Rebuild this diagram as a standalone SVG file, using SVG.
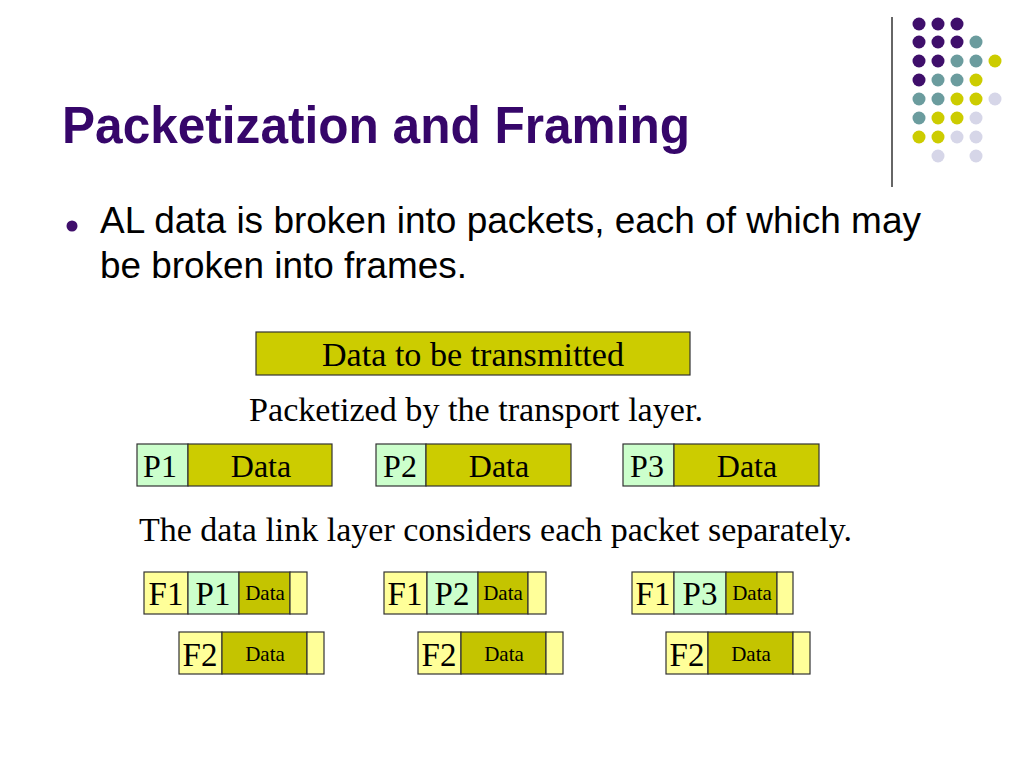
<svg xmlns="http://www.w3.org/2000/svg" width="1024" height="768" viewBox="0 0 1024 768">
<style>
.t{font-family:"Liberation Serif","Times New Roman",serif;fill:#000}
.s{font-family:"Liberation Sans",Arial,sans-serif;fill:#000}
.box{stroke:#333;stroke-width:1.2}
.dat{fill:#cccc00}
.fdat{fill:#c4c400}
.p{fill:#ccffcc}
.f{fill:#ffff99}
.big{font-size:32px}
.fr{font-size:33px}
.sm{font-size:21px}
.pu{fill:#3f0f6b}.te{fill:#6b9c9e}.ye{fill:#cccc00}.la{fill:#d6d6e8}
</style>
<rect width="1024" height="768" fill="#fff"/>
<g id="decor">
<line x1="892" y1="17" x2="892" y2="187" stroke="#333" stroke-width="1.5"/>
<g>
<circle class="pu" cx="919" cy="24" r="6.5"/><circle class="pu" cx="938" cy="24" r="6.5"/><circle class="pu" cx="957" cy="24" r="6.5"/>
<circle class="pu" cx="919" cy="42" r="6.5"/><circle class="pu" cx="938" cy="42" r="6.5"/><circle class="pu" cx="957" cy="42" r="6.5"/><circle class="te" cx="976" cy="42" r="6.5"/>
<circle class="pu" cx="919" cy="61" r="6.5"/><circle class="pu" cx="938" cy="61" r="6.5"/><circle class="te" cx="957" cy="61" r="6.5"/><circle class="te" cx="976" cy="61" r="6.5"/><circle class="ye" cx="995" cy="61" r="6.5"/>
<circle class="pu" cx="919" cy="80" r="6.5"/><circle class="te" cx="938" cy="80" r="6.5"/><circle class="te" cx="957" cy="80" r="6.5"/><circle class="ye" cx="976" cy="80" r="6.5"/>
<circle class="te" cx="919" cy="99" r="6.5"/><circle class="te" cx="938" cy="99" r="6.5"/><circle class="ye" cx="957" cy="99" r="6.5"/><circle class="ye" cx="976" cy="99" r="6.5"/><circle class="la" cx="995" cy="99" r="6.5"/>
<circle class="te" cx="919" cy="118" r="6.5"/><circle class="ye" cx="938" cy="118" r="6.5"/><circle class="ye" cx="957" cy="118" r="6.5"/><circle class="la" cx="976" cy="118" r="6.5"/>
<circle class="ye" cx="919" cy="137" r="6.5"/><circle class="ye" cx="938" cy="137" r="6.5"/><circle class="la" cx="957" cy="137" r="6.5"/><circle class="la" cx="976" cy="137" r="6.5"/>
<circle class="la" cx="938" cy="156" r="6.5"/><circle class="la" cx="976" cy="156" r="6.5"/>
</g>
</g>
<g id="title"><text x="62" y="143" font-family="Liberation Sans,Arial,sans-serif" font-weight="bold" font-size="52" fill="#36066a" textLength="628" lengthAdjust="spacingAndGlyphs">Packetization and Framing</text></g>
<g id="bullet">
<circle cx="72" cy="226" r="5.5" fill="#3f0f6b"/>
<text class="s" x="100" y="233" font-size="36" textLength="821" lengthAdjust="spacingAndGlyphs">AL data is broken into packets, each of which may</text>
<text class="s" x="100" y="278" font-size="36" textLength="367" lengthAdjust="spacingAndGlyphs">be broken into frames.</text>
</g>
<g id="data">
<rect class="box dat" x="256" y="332" width="434" height="43"/>
<text class="t" x="322" y="366" font-size="34" textLength="302" lengthAdjust="spacingAndGlyphs">Data to be transmitted</text>
</g>
<text class="t" x="249" y="421" font-size="34" textLength="454" lengthAdjust="spacingAndGlyphs">Packetized by the transport layer.</text>
<g id="packet1">
<rect class="box p" x="137" y="444" width="51" height="42"/><rect class="box dat" x="188" y="444" width="144" height="42"/>
<text class="t big" x="160" y="477" text-anchor="middle">P1</text><text class="t big" x="261" y="477" text-anchor="middle">Data</text>
</g>
<g id="packet2">
<rect class="box p" x="376" y="444" width="50" height="42"/><rect class="box dat" x="426" y="444" width="145" height="42"/>
<text class="t big" x="400" y="477" text-anchor="middle">P2</text><text class="t big" x="499" y="477" text-anchor="middle">Data</text>
</g>
<g id="packet3">
<rect class="box p" x="623" y="444" width="51" height="42"/><rect class="box dat" x="674" y="444" width="145" height="42"/>
<text class="t big" x="647" y="477" text-anchor="middle">P3</text><text class="t big" x="747" y="477" text-anchor="middle">Data</text>
</g>
<text class="t" x="139" y="541" font-size="34" textLength="713" lengthAdjust="spacingAndGlyphs">The data link layer considers each packet separately.</text>
<g id="frame1a">
<rect class="box f" x="144" y="572" width="44" height="42"/><rect class="box p" x="188" y="572" width="51" height="42"/><rect class="box fdat" x="239" y="572" width="51" height="42"/><rect class="box f" x="290" y="572" width="17" height="42"/>
<text class="t fr" x="166" y="605" text-anchor="middle">F1</text><text class="t fr" x="213" y="605" text-anchor="middle">P1</text><text class="t sm" x="265" y="600" text-anchor="middle">Data</text>
</g>
<g id="frame1b">
<rect class="box f" x="179" y="632" width="43" height="42"/><rect class="box fdat" x="222" y="632" width="85" height="42"/><rect class="box f" x="307" y="632" width="17" height="42"/>
<text class="t fr" x="200" y="666" text-anchor="middle">F2</text><text class="t sm" x="265" y="661" text-anchor="middle">Data</text>
</g>
<g id="frame2a">
<rect class="box f" x="384" y="572" width="43" height="42"/><rect class="box p" x="427" y="572" width="51" height="42"/><rect class="box fdat" x="478" y="572" width="50" height="42"/><rect class="box f" x="528" y="572" width="18" height="42"/>
<text class="t fr" x="405" y="605" text-anchor="middle">F1</text><text class="t fr" x="452" y="605" text-anchor="middle">P2</text><text class="t sm" x="503" y="600" text-anchor="middle">Data</text>
</g>
<g id="frame2b">
<rect class="box f" x="418" y="632" width="43" height="42"/><rect class="box fdat" x="461" y="632" width="85" height="42"/><rect class="box f" x="546" y="632" width="17" height="42"/>
<text class="t fr" x="439" y="666" text-anchor="middle">F2</text><text class="t sm" x="504" y="661" text-anchor="middle">Data</text>
</g>
<g id="frame3a">
<rect class="box f" x="632" y="572" width="42" height="42"/><rect class="box p" x="674" y="572" width="52" height="42"/><rect class="box fdat" x="726" y="572" width="51" height="42"/><rect class="box f" x="777" y="572" width="16" height="42"/>
<text class="t fr" x="653" y="605" text-anchor="middle">F1</text><text class="t fr" x="700" y="605" text-anchor="middle">P3</text><text class="t sm" x="752" y="600" text-anchor="middle">Data</text>
</g>
<g id="frame3b">
<rect class="box f" x="666" y="632" width="42" height="42"/><rect class="box fdat" x="708" y="632" width="85" height="42"/><rect class="box f" x="793" y="632" width="17" height="42"/>
<text class="t fr" x="687" y="666" text-anchor="middle">F2</text><text class="t sm" x="751" y="661" text-anchor="middle">Data</text>
</g>
<g id="connectors"></g>
</svg>
